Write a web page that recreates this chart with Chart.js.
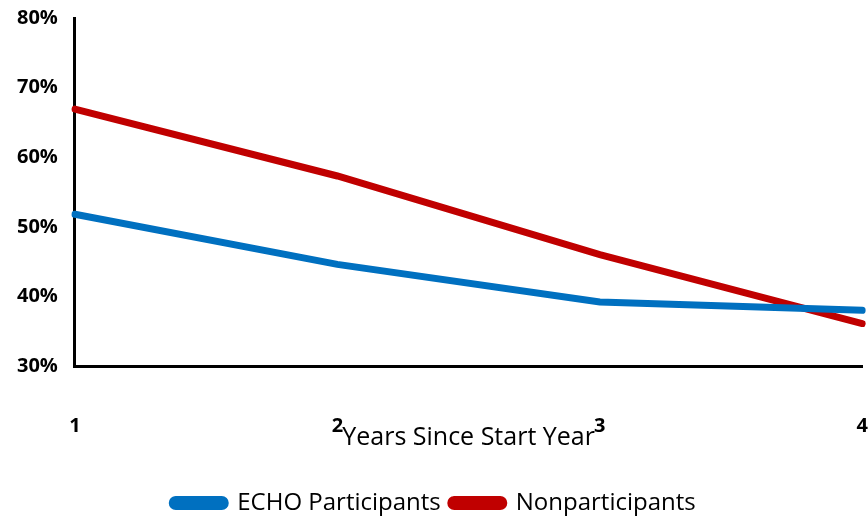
<!DOCTYPE html>
<html>
<head>
<meta charset="utf-8">
<script src="https://cdn.jsdelivr.net/npm/chart.js@4/dist/chart.umd.min.js"></script>
<style>
  html, body { margin: 0; padding: 0; background: #ffffff; }
  #wrap { width: 868px; height: 525px; }
</style>
</head>
<body>
<div id="wrap"><canvas id="chart" width="868" height="525"></canvas></div>
<script>
// Share of each group over the years following the start year
const years = ['1', '2', '3', '4'];
const echoParticipants = [51.8, 44.6, 39.2, 38.0];
const nonparticipants = [66.9, 57.3, 46.0, 36.1];
const yTicks = [30, 40, 50, 60, 70, 80];

const fontFace = "'Open Sans', 'Liberation Sans', sans-serif";

new Chart(document.getElementById('chart'), {
  type: 'line',
  data: {
    labels: years,
    datasets: [
      {
        label: 'ECHO Participants',
        data: echoParticipants,
        borderColor: '#0070C0',
        backgroundColor: '#0070C0',
        borderWidth: 7,
        pointRadius: 0,
        borderCapStyle: 'round',
        tension: 0
      },
      {
        label: 'Nonparticipants',
        data: nonparticipants,
        borderColor: '#C00000',
        backgroundColor: '#C00000',
        borderWidth: 7,
        pointRadius: 0,
        borderCapStyle: 'round',
        tension: 0
      }
    ]
  },
  options: {
    responsive: false,
    animation: false,
    layout: { padding: { top: 18, right: 0, left: 0, bottom: 0 } },
    plugins: {
      tooltip: { enabled: false },
      legend: {
        position: 'bottom',
        labels: {
          color: '#000000',
          font: { family: fontFace, size: 24 },
          boxWidth: 53,
          boxHeight: 7,
          useBorderRadius: true,
          borderRadius: 3.5,
          padding: 10
        }
      }
    },
    scales: {
      x: {
        type: 'category',
        offset: false,
        grid: { display: false, drawTicks: false },
        border: { display: true, color: '#000000', width: 3 },
        ticks: {
          color: '#000000',
          font: { family: fontFace, size: 20, weight: 'bold', lineHeight: 6 },
          padding: 0,
          maxRotation: 0
        },
        title: {
          display: true,
          text: 'Years Since Start Year',
          color: '#000000',
          font: { family: fontFace, size: 25, lineHeight: 0.6 },
          padding: { top: -56, bottom: 36 }
        }
      },
      y: {
        min: yTicks[0],
        max: yTicks[yTicks.length - 1],
        afterBuildTicks: (scale) => { scale.ticks = yTicks.map(v => ({ value: v })); },
        grid: { display: false, drawTicks: false },
        border: { display: true, color: '#000000', width: 3 },
        ticks: {
          color: '#000000',
          font: { family: fontFace, size: 20, weight: 'bold', lineHeight: 0.01 },
          padding: 17,
          callback: (v) => v + '%'
        }
      }
    }
  }
});
</script>
</body>
</html>
